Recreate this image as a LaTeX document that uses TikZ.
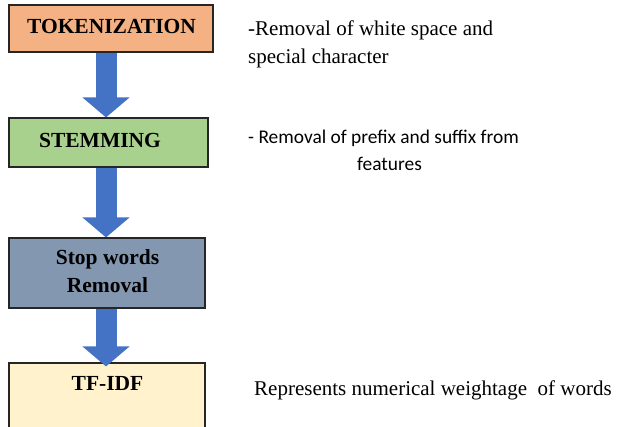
\documentclass[tikz,border=0pt]{standalone}
\usepackage{fontspec}
\setmainfont{Liberation Serif}
\newfontfamily\calib{Carlito}
\usetikzlibrary{arrows.meta}
\definecolor{tokfill}{HTML}{F4B183}
\definecolor{stemfill}{HTML}{A9D18E}
\definecolor{stopfill}{HTML}{8497B0}
\definecolor{tffill}{HTML}{FFF2CC}
\definecolor{arrowblue}{HTML}{4472C4}
\begin{document}
\begin{tikzpicture}[x=1pt,y=-1pt,
  box/.style={draw=black!85, line width=1.1pt, rectangle, inner sep=0pt},
  boxtext/.style={font=\fontsize{21.5}{28}\selectfont\bfseries, align=center, inner sep=0pt},
  note/.style={font=\rmfamily\fontsize{21}{28}\selectfont, anchor=base west, inner sep=0pt},
  sansnote/.style={font=\calib\fontsize{19.4}{27}\selectfont, anchor=base west, inner sep=0pt},
  blockarrow/.style={draw=arrowblue, line width=21pt, -{Triangle[width=46pt,length=20pt]}}]
\useasboundingbox (0,0) rectangle (621,426);
\begin{scope}
\clip (0,0) rectangle (621,426);
% boxes
\node[box, fill=tokfill, minimum width=204pt, minimum height=47pt] (tok) at (111,28.5) {};
\node[box, fill=stemfill, minimum width=199pt, minimum height=49pt] (stem) at (108.5,142.5) {};
\node[box, fill=stopfill, minimum width=196pt, minimum height=70pt] (stop) at (107,273) {};
\node[box, fill=tffill, minimum width=196pt, minimum height=80pt] (tf) at (107,403) {};
% box texts
\node[boxtext] (toktext) at (111.5,26) {TOKENIZATION};
\node[boxtext] (stemtext) at (100,140) {STEMMING};
\node[boxtext] (stoptext) at (107.5,271) {Stop words\\Removal};
\node[boxtext] (tftext) at (107.5,383) {TF-IDF};
% arrows
\coordinate (ax) at (106,0);
\draw[blockarrow] (tok.south -| ax) -- (stem.north -| ax);
\draw[blockarrow] (stem.south -| ax) -- (stop.north -| ax);
\draw[blockarrow, shorten >=-4pt] (stop.south -| ax) -- (tf.north -| ax);
\end{scope}
% notes
\node[note] (n1a) at (248,35) {-Removal of white space and};
\node[note] (n1b) at (248,63) {special character};
\node[sansnote] (n2a) at (248,143) {- Removal of prefix and suffix from};
\node[sansnote] (n2b) at (357,170) {features};
\node[note] (n4) at (254,395) {Represents numerical weightage\ \ of words};
\end{tikzpicture}
\end{document}
